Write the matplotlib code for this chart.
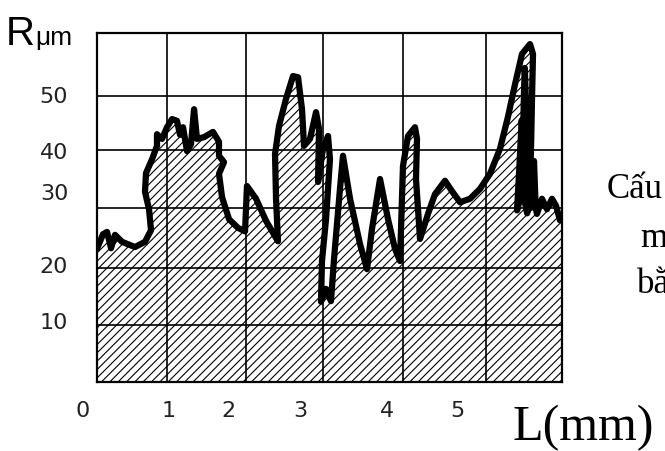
import matplotlib.pyplot as plt

# profile: L in mm, R in um
prof_x = [0.00, 0.077, 0.129, 0.181, 0.232, 0.323, 0.490, 0.619, 0.697, 0.671,
          0.619, 0.632, 0.710, 0.774, 0.774, 0.839, 0.903, 0.968, 1.032, 1.071,
          1.110, 1.161, 1.213, 1.252, 1.290, 1.381, 1.497, 1.574, 1.574, 1.639,
          1.574, 1.613, 1.703, 1.819, 1.910, 1.935, 2.052, 2.181, 2.335, 2.310,
          2.297, 2.348, 2.439, 2.529, 2.594, 2.645, 2.671, 2.748, 2.826, 2.865,
          2.852, 2.916, 2.981, 3.006, 2.955, 2.903, 2.890, 2.955, 3.019, 3.058,
          3.135, 3.174, 3.265, 3.394, 3.484, 3.548, 3.652, 3.755, 3.845, 3.910,
          3.948, 4.013, 4.103, 4.129, 4.116, 4.168, 4.271, 4.361, 4.490, 4.581,
          4.684, 4.813, 4.942, 5.071, 5.200, 5.303, 5.394, 5.484, 5.587, 5.626,
          5.613, 5.600, 5.587, 5.560, 5.548, 5.535, 5.520, 5.510, 5.497, 5.470,
          5.440, 5.420, 5.450, 5.480, 5.500, 5.520, 5.550, 5.580, 5.610, 5.639,
          5.660, 5.677, 5.742, 5.806, 5.871, 5.923, 5.974, 6.0]
prof_y = [22.9, 25.4, 25.8, 23.0, 25.3, 24.1, 23.2, 24.1, 26.1, 29.7,
          32.7, 35.9, 38.3, 40.6, 42.6, 41.8, 43.8, 45.2, 44.9, 42.5,
          43.8, 39.7, 40.9, 46.9, 41.8, 42.1, 43.0, 41.3, 38.9, 37.8,
          35.8, 31.8, 28.0, 26.5, 25.9, 33.7, 31.5, 27.7, 24.2, 31.5,
          39.2, 44.0, 48.7, 52.6, 52.4, 46.9, 40.6, 41.8, 46.4, 43.5,
          34.4, 40.1, 42.3, 38.3, 28.0, 20.8, 13.8, 16.0, 13.9, 21.1,
          33.2, 38.9, 31.5, 23.7, 19.4, 26.3, 34.9, 28.0, 22.9, 20.8,
          37.1, 42.3, 43.8, 41.8, 34.9, 24.6, 28.9, 32.3, 34.6, 32.8,
          30.9, 31.5, 33.2, 35.8, 40.1, 45.6, 51.2, 56.4, 58.1, 56.4,
          48.7, 40.0, 32.0, 29.5, 38.0, 48.0, 54.0, 50.0, 42.0, 35.0,
          30.5, 29.5, 37.0, 45.0, 40.0, 31.0, 29.0, 31.0, 30.0, 38.0,
          30.0, 28.9, 31.5, 29.7, 31.5, 30.3, 27.8, 28.0]

# grid lines as drawn (uneven in the picture)
grid_x = [0, 0.903, 1.923, 2.916, 3.948, 5.019, 6.0]
grid_y = [0, 9.8, 19.6, 29.9, 39.9, 49.2, 60]

x_labels = ['0', '1', '2', '3', '4', '5']
x_label_pos = [-0.185, 0.93, 1.70, 2.62, 3.74, 4.65]
y_labels = ['10', '20', '30', '40', '50']
y_label_pos = [10.3, 19.9, 32.5, 39.6, 49.2]

plt.rcParams['hatch.linewidth'] = 0.8

fig = plt.figure(figsize=(6.65, 4.52), dpi=100)
ax = fig.add_axes([0.1459, 0.1527, 0.6992, 0.772])
ax.set_xlim(0, 6)
ax.set_ylim(0, 60)

ax.set_xticks(grid_x, labels=[])
ax.set_yticks(grid_y, labels=[])
ax.tick_params(length=0)
ax.grid(True, color='black', linewidth=1.2)
ax.set_axisbelow(True)
for s in ax.spines.values():
    s.set_linewidth(1.6)

poly_x = prof_x + [prof_x[-1], prof_x[0]]
poly_y = prof_y + [0, 0]
ax.fill(poly_x, poly_y, facecolor='none', edgecolor='black', linewidth=0, hatch='////')
ax.plot(prof_x, prof_y, color='black', linewidth=4.5, solid_joinstyle='round',
        solid_capstyle='round')

for lab, pos in zip(x_labels, x_label_pos):
    ax.text(pos, -0.08, lab, transform=ax.get_xaxis_transform(), ha='center',
            va='center', fontsize=16, family='DejaVu Sans', color='#222222',
            clip_on=False)
for lab, pos in zip(y_labels, y_label_pos):
    ax.text(-0.062, pos, lab, transform=ax.get_yaxis_transform(), ha='right',
            va='center', fontsize=16, family='DejaVu Sans', color='#222222',
            clip_on=False)

fig.text(6 / 665, 1 - 45 / 452, 'R', fontsize=29, family='Liberation Sans',
         va='baseline', ha='left')
fig.text(35 / 665, 1 - 45 / 452, 'μm', fontsize=19, family='Liberation Sans',
         va='baseline', ha='left')
fig.text(513 / 665, 1 - 440 / 452, 'L(mm)', fontsize=36, family='Liberation Serif',
         va='baseline', ha='left')

# side caption, only the part that shows inside the frame
fig.text(607 / 665, 1 - 198 / 452, 'Cấu', fontsize=25, family='Liberation Serif',
         va='baseline', ha='left')
fig.text(640 / 665, 1 - 247 / 452, 'm', fontsize=25, family='Liberation Serif',
         va='baseline', ha='left')
fig.text(637 / 665, 1 - 293 / 452, 'bằ', fontsize=25, family='Liberation Serif',
         va='baseline', ha='left')

fig.savefig('out.png', dpi=100)
